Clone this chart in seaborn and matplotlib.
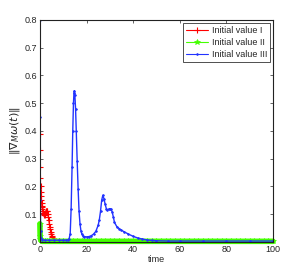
import pandas as pd
import seaborn as sns
import matplotlib
matplotlib.use("Agg")
import matplotlib.pyplot as plt

# Initial value I (red, plus markers)
red_t = [0, 0.05, 0.1, 0.2, 0.3, 0.4, 0.5, 0.6, 0.7, 0.8, 0.9, 1.0, 1.2, 1.4, 1.6,
         1.8, 2.0, 2.2, 2.4, 2.6, 2.8, 3.0, 3.2, 3.4, 3.6, 3.8, 4.0, 4.2, 4.4, 4.6,
         4.8, 5.0, 5.2, 5.4, 5.6, 5.8, 6.0, 6.5, 7.0, 8.0]
red_v = [0.39, 0.33, 0.27, 0.23, 0.2, 0.18, 0.165, 0.15, 0.14, 0.13, 0.125, 0.12,
         0.11, 0.105, 0.10, 0.097, 0.098, 0.10, 0.105, 0.11, 0.112, 0.113, 0.11,
         0.10, 0.09, 0.078, 0.066, 0.055, 0.045, 0.036, 0.028, 0.021, 0.016, 0.012,
         0.009, 0.007, 0.005, 0.004, 0.003, 0.003]

# Initial value II (green, star markers)
green_t = [0, 0.1, 0.25, 0.5, 1, 2, 3, 4, 5, 6, 8, 10, 12, 14, 16, 18, 20, 22, 24,
           26, 28, 30, 32, 34, 36, 38, 40, 42, 44, 46, 48, 50, 52, 54, 56, 58, 60,
           62, 64, 66, 68, 70, 72, 74, 76, 78, 80, 82, 84, 86, 88, 90, 92, 94, 96,
           98, 100]
green_v = [0.065, 0.022, 0.01, 0.005] + [0.002] * 53

# Initial value III (blue, dot markers)
blue_t = [0, 0.1, 0.2, 0.3, 0.5, 1, 2, 4, 6, 8, 10, 11, 12, 12.5, 13, 13.4, 13.8,
          14.1, 14.4, 14.6, 14.8, 15.0, 15.3, 15.6, 16.0, 16.4, 16.8, 17.2, 17.6,
          18.0, 18.5, 19.0, 20, 21, 22, 23, 24, 25, 25.5, 26, 26.5, 27, 27.5, 28,
          28.5, 29, 29.5, 30, 30.5, 31, 31.5, 32, 33, 34, 35, 36, 38, 40, 42, 44,
          46, 48, 50, 55, 60, 70, 80, 90, 100]
blue_v = [0.80, 0.45, 0.15, 0.04, 0.015, 0.008, 0.006, 0.006, 0.006, 0.006, 0.006,
          0.006, 0.007, 0.01, 0.03, 0.12, 0.27, 0.40, 0.50, 0.535, 0.545, 0.53,
          0.48, 0.40, 0.29, 0.19, 0.11, 0.065, 0.04, 0.028, 0.022, 0.019, 0.018,
          0.019, 0.022, 0.028, 0.038, 0.06, 0.08, 0.11, 0.15, 0.168, 0.155, 0.135,
          0.12, 0.115, 0.118, 0.12, 0.118, 0.108, 0.09, 0.07, 0.055, 0.048, 0.042,
          0.037, 0.028, 0.02, 0.014, 0.01, 0.007, 0.005, 0.004, 0.003, 0.003,
          0.003, 0.003, 0.003, 0.003]

df_red = pd.DataFrame({"time": red_t, "value": red_v})
df_green = pd.DataFrame({"time": green_t, "value": green_v})
df_blue = pd.DataFrame({"time": blue_t, "value": blue_v})

sns.set_style("ticks")
plt.rcParams["font.family"] = ["Liberation Sans", "DejaVu Sans"]

fig = plt.figure(figsize=(3.0, 2.73), dpi=100)
ax = fig.add_axes([0.133, 0.114, 0.777, 0.813])

sns.lineplot(data=df_red, x="time", y="value", ax=ax, color="#ff0000", linewidth=0.8,
             marker="+", markersize=4, markeredgewidth=0.8, markeredgecolor="#ff0000",
             label="Initial value I")
sns.lineplot(data=df_green, x="time", y="value", ax=ax, color="#44ff00", linewidth=4.0,
             marker="*", markersize=4, markeredgewidth=0.5, markeredgecolor="#44ff00",
             clip_on=False, label="Initial value II")
sns.lineplot(data=df_blue, x="time", y="value", ax=ax, color="#2233ff", linewidth=1.0,
             marker=".", markersize=2.5, markeredgewidth=0.5, markeredgecolor="#2233ff",
             label="Initial value III")

ax.set_xlim(0, 100)
ax.set_ylim(0, 0.8)
ax.set_xticks([0, 20, 40, 60, 80, 100])
ax.set_yticks([0, 0.1, 0.2, 0.3, 0.4, 0.5, 0.6, 0.7, 0.8])
ax.set_yticklabels(["0", "0.1", "0.2", "0.3", "0.4", "0.5", "0.6", "0.7", "0.8"])
ax.tick_params(direction="in", length=2, width=0.5, labelsize=6.5, pad=2,
               top=True, right=True)
for s in ax.spines.values():
    s.set_linewidth(0.8)
    s.set_color("#222222")

ax.set_xlabel("time", fontsize=6.5, labelpad=1)
ax.set_ylabel(r"$\|\nabla_{M}\omega(t)\|$", fontsize=8, labelpad=2)

leg = ax.legend(loc="upper right", fontsize=6.5, frameon=True, fancybox=False,
                borderpad=0.35, labelspacing=0.35, handlelength=2.4, handletextpad=0.4,
                borderaxespad=0.3)
leg.get_frame().set_edgecolor("black")
leg.get_frame().set_linewidth(0.6)
for line in leg.get_lines():
    line.set_linewidth(0.8)

fig.savefig("out.png", dpi=100)
